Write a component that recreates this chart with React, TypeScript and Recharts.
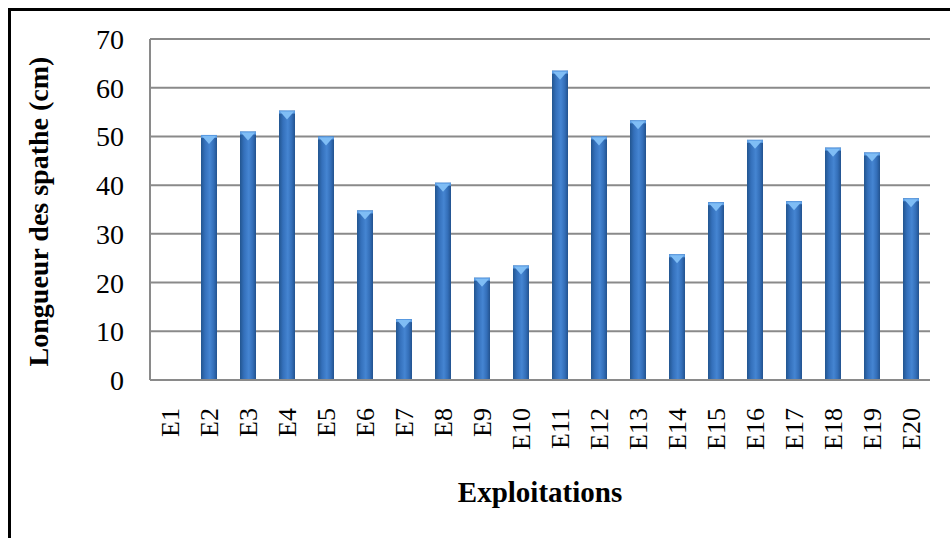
import React from 'react';
import { BarChart, Bar, XAxis, YAxis, CartesianGrid, Label } from 'recharts';

const categories = ['E1','E2','E3','E4','E5','E6','E7','E8','E9','E10','E11','E12','E13','E14','E15','E16','E17','E18','E19','E20'];
const longueur = [0, 50.3, 51, 55.3, 50, 34.8, 12.5, 40.5, 21, 23.5, 63.5, 50, 53.3, 25.8, 36.5, 49.3, 36.7, 47.7, 46.7, 37.3];
const yTicks = [0, 10, 20, 30, 40, 50, 60, 70];

const data = categories.map((c, i) => ({ name: c, value: longueur[i] }));

const FONT = '"Liberation Serif", "Times New Roman", serif';

const BarShape = (props: any) => {
  const { x, y, width, height } = props;
  if (!height || height <= 0) return null;
  const cap = Math.min(9, height);
  return (
    <g>
      <rect x={x} y={y} width={width} height={height} fill="url(#barGrad)" />
      <rect x={x} y={y} width={width} height={3} fill="#5a9be2" />
      <polygon
        points={`${x + 1},${y + 1} ${x + width - 1},${y + 1} ${x + width / 2},${y + cap}`}
        fill="#7fbdf5"
      />
    </g>
  );
};

const XTick = (props: any) => {
  const { x, y, payload } = props;
  return (
    <g transform={`translate(${x},${y})`}>
      <text
        transform="rotate(-90)"
        x={-28}
        y={0}
        dy="0.35em"
        textAnchor="end"
        fontFamily={FONT}
        fontSize={26}
        fill="#000"
      >
        {payload.value}
      </text>
    </g>
  );
};

const YLabel = (props: any) => {
  const vb = props.viewBox || {};
  const cx = (vb.x || 0) + 38;
  const cy = (vb.y || 0) + (vb.height || 0) / 2 + 2;
  return (
    <text
      x={cx}
      y={cy}
      transform={`rotate(-90, ${cx}, ${cy})`}
      textAnchor="middle"
      dominantBaseline="central"
      fontFamily={FONT}
      fontWeight="bold"
      fontSize={28}
      fill="#000"
    >
      Longueur des spathe (cm)
    </text>
  );
};

export default function App() {
  return (
    <div style={{ position: 'fixed', left: 0, top: 0, width: 950, height: 538, background: '#fff', overflow: 'hidden' }}>
      <div
        style={{
          position: 'absolute',
          left: 8,
          top: 8,
          width: 960,
          height: 560,
          borderLeft: '3px solid #000',
          borderTop: '3px solid #000',
        }}
      />
      <div style={{ position: 'absolute', left: 0, top: 0 }}>
        <BarChart
          width={950}
          height={538}
          data={data}
          margin={{ top: 39, right: 20, left: 0, bottom: 0 }}
          barSize={16}
        >
          <defs>
            <linearGradient id="barGrad" x1="0" y1="0" x2="1" y2="0">
              <stop offset="0%" stopColor="#22558f" />
              <stop offset="25%" stopColor="#3470bb" />
              <stop offset="55%" stopColor="#4585d2" />
              <stop offset="80%" stopColor="#336eb8" />
              <stop offset="100%" stopColor="#22528e" />
            </linearGradient>
          </defs>
          <CartesianGrid vertical={false} stroke="#8a8a8a" strokeWidth={2} />
          <XAxis
            dataKey="name"
            interval={0}
            tickLine={false}
            tickSize={0}
            tickMargin={0}
            height={158}
            axisLine={{ stroke: '#8a8a8a', strokeWidth: 2 }}
            tick={<XTick />}
          >
            <Label
              value="Exploitations"
              position="insideBottom"
              offset={36}
              style={{ fontFamily: FONT, fontWeight: 'bold', fontSize: 29, fill: '#000' }}
            />
          </XAxis>
          <YAxis
            width={150}
            domain={[0, 70]}
            ticks={yTicks}
            interval={0}
            tickLine={false}
            tickSize={0}
            tickMargin={26}
            axisLine={{ stroke: '#8a8a8a', strokeWidth: 2 }}
            tick={{ fontFamily: FONT, fontSize: 28, fill: '#000' }}
          >
            <Label content={<YLabel />} />
          </YAxis>
          <Bar dataKey="value" shape={<BarShape />} isAnimationActive={false} />
        </BarChart>
      </div>
    </div>
  );
}
